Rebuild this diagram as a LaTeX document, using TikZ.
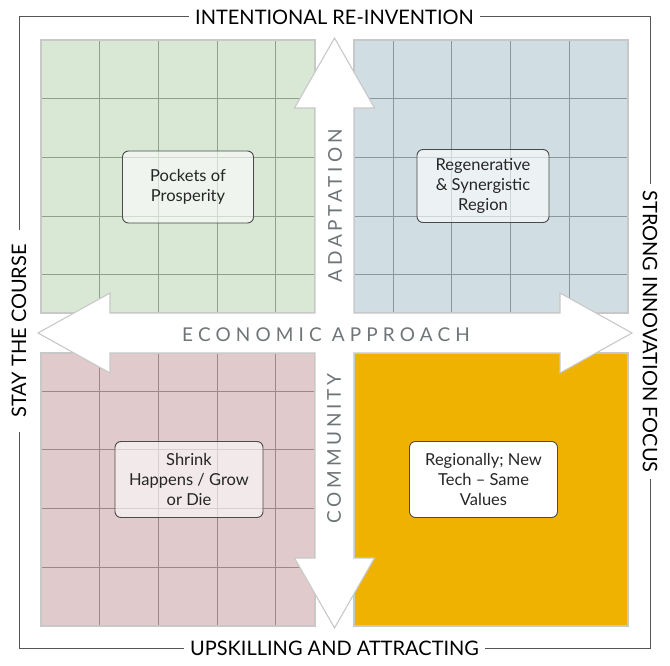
\documentclass[tikz,border=0pt]{standalone}
\usepackage{fontspec}
\setmainfont{Lato}
\newfontfamily\spacedfont[LetterSpace=20]{Lato}
\newfontfamily\widefont[LetterSpace=27]{Lato}
\usepackage{xcolor}
\definecolor{greenq}{HTML}{D9E7D5}
\definecolor{greenline}{HTML}{8FA08C}
\definecolor{blueq}{HTML}{D0DDE3}
\definecolor{blueline}{HTML}{8A979D}
\definecolor{pinkq}{HTML}{E0CACB}
\definecolor{pinkline}{HTML}{9E8789}
\definecolor{goldq}{HTML}{F0B200}
\definecolor{quadline}{HTML}{C8C8C8}
\definecolor{boxline}{HTML}{4A4A4A}
\definecolor{boxtext}{HTML}{262626}
\definecolor{axisgrey}{HTML}{6E7577}
\definecolor{frameline}{HTML}{555555}

\begin{document}
\begin{tikzpicture}[x=1pt,y=-1pt,
    quad/.style={draw=quadline, line width=1.1pt},
    cell/.style={line width=0.9pt},
    box/.style={draw=boxline, line width=0.9pt, rounded corners=6pt, fill=white, fill opacity=0.6, text opacity=1,
      align=center, text=boxtext, font=\fontsize{16.5}{20}\selectfont, minimum width=131pt, minimum height=72pt},
    axis/.style={text=axisgrey, font=\spacedfont\fontsize{19}{19}\selectfont},
    side/.style={text=black, font=\fontsize{20}{20}\selectfont, inner xsep=6pt},
    frame/.style={draw=frameline, line width=1pt}]
    \useasboundingbox[fill=white] (0,0) rectangle (670,666);

    \fill[greenq] (41,40) rectangle (315,313);
    \draw[cell, greenline, shift={(41,40)}] (0,0) grid[step=58.7pt] (274,273);
    \draw[quad] (41,40) rectangle (315,313);
    \fill[blueq] (354,40) rectangle (628,313);
    \draw[cell, blueline, shift={(628,40)}] (0,0) grid[step=58.7pt] (-274,273);
    \draw[quad] (354,40) rectangle (628,313);
    \fill[pinkq] (41,353) rectangle (315,626);
    \draw[cell, pinkline, shift={(41,626)}] (0,0) grid[step=58.7pt] (274,-273);
    \draw[quad] (41,353) rectangle (315,626);
    \fill[goldq] (354,353) rectangle (628,626);
    \draw[quad] (354,353) rectangle (628,626);

    \draw[quad, fill=white] (334.5,38) -- (374.5,108) -- (354,108) -- (354,313) -- (560,313) -- (560,293)
      -- (632,333) -- (560,373) -- (560,353) -- (354,353) -- (354,558) -- (374.5,558)
      -- (334.5,628) -- (294.5,558) -- (315,558) -- (315,353) -- (110,353) -- (110,373)
      -- (38,333) -- (110,293) -- (110,313) -- (315,313) -- (315,108) -- (294.5,108) -- cycle;

    \node[axis, rotate=90] (adapt) at (335,206) {ADAPTATION};
    \node[axis, rotate=90] (comm) at (334,448.5) {COMMUNITY};
    \node[axis, font=\widefont\fontsize{19}{19}\selectfont] (econ) at (326,334.5) {ECONOMIC APPROACH};

    \node[box] (pockets) at (188,187) {Pockets of\\Prosperity};
    \node[box, minimum width=132pt, minimum height=73pt] (regen) at (483,186) {Regenerative\\\& Synergistic\\Region};
    \node[box, minimum width=148pt, minimum height=76pt] (shrink) at (189,479.5) {Shrink\\Happens / Grow\\or Die};
    \node[box, minimum width=148pt, minimum height=76pt, fill opacity=1] (tech) at (483.5,479.5) {Regionally; New\\Tech -- Same\\Values};

    \node[side] (top) at (334.5,17) {INTENTIONAL RE-INVENTION};
    \node[side] (bot) at (334.5,648) {UPSKILLING AND ATTRACTING};
    \node[side, rotate=90, inner xsep=14pt] (left) at (19,331) {STAY THE COURSE};
    \node[side, rotate=-90] (right) at (650,331.5) {STRONG INNOVATION FOCUS};
    \draw[frame] (top.west) -| (left.east);
    \draw[frame] (left.west) |- (bot.west);
    \draw[frame] (top.east) -| (right.west);
    \draw[frame] (right.east) |- (bot.east);
\end{tikzpicture}
\end{document}
